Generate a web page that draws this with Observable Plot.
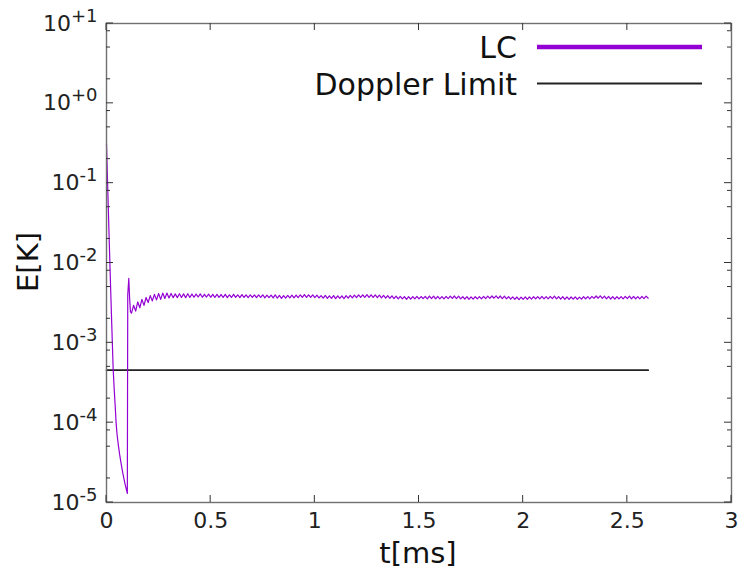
<!DOCTYPE html>
<html><head><meta charset="utf-8">
<script src="https://cdn.jsdelivr.net/npm/d3@7"></script>
<script src="https://cdn.jsdelivr.net/npm/@observablehq/plot@0.6"></script>
<style>
body{margin:0;background:#fff}
svg{font-family:"DejaVu Sans",sans-serif}
</style>
</head><body><div id="chart"></div>
<script>
// Initial cooling drop and re-capture spike (time in ms, energy in K)
const dropTime = [0, 0.004, 0.008, 0.012, 0.016, 0.020, 0.024, 0.028, 0.032, 0.037, 0.042, 0.046, 0.051, 0.057, 0.063, 0.069, 0.075, 0.081, 0.088, 0.094, 0.100, 0.102, 0.107, 0.111, 0.115];
const dropE    = [0.31, 0.13, 0.056, 0.024, 0.0104, 4.7e-3, 2.13e-3, 1.0e-3, 4.7e-4, 2.6e-4, 1.58e-4, 1.0e-4, 7.0e-5, 5.2e-5, 4.0e-5, 3.2e-5, 2.6e-5, 2.15e-5, 1.75e-5, 1.5e-5, 1.3e-5, 4.0e-3, 6.4e-3, 3.6e-3, 2.46e-3];

// Steady-state LC energy in mK, sampled every 0.01 ms from 0.12 ms to 2.60 ms
const tailStart = 0.12;
const tailStep = 0.01;
const tailEmK = [
  2.35,2.95,2.5,3.25,2.75,3.5,2.95,3.7,3.2,3.9,
  3.35,4.05,3.45,4.15,3.5,4.2,3.6,4.2,3.65,4.15,
  3.68,4.1,3.68,4.12,3.7,4.1,3.68,4.12,3.7,4.08,
  3.72,4.08,3.75,4.1,3.72,4.05,3.75,4.08,3.72,4.05,
  3.7,4.05,3.72,4.02,3.7,4.05,3.68,4.0,3.7,4.05,
  3.72,4.0,3.68,4.02,3.7,3.98,3.68,4.0,3.7,3.98,
  3.68,3.98,3.7,4.0,3.66,3.96,3.68,3.95,3.65,3.98,
  3.62,3.92,3.6,3.9,3.62,3.92,3.65,3.95,3.66,3.97,
  3.68,4.0,3.7,4.02,3.72,4.0,3.7,3.98,3.68,3.95,
  3.65,3.9,3.62,3.92,3.6,3.88,3.6,3.9,3.58,3.88,
  3.6,3.88,3.58,3.9,3.62,3.92,3.65,3.95,3.68,3.98,
  3.7,4.0,3.72,4.02,3.72,4.0,3.7,3.98,3.68,3.95,
  3.65,3.92,3.62,3.9,3.6,3.88,3.58,3.85,3.55,3.82,
  3.55,3.8,3.5,3.78,3.52,3.8,3.55,3.82,3.55,3.8,
  3.58,3.82,3.56,3.85,3.58,3.84,3.56,3.82,3.55,3.8,
  3.55,3.82,3.58,3.85,3.6,3.86,3.58,3.84,3.56,3.8,
  3.52,3.78,3.5,3.76,3.52,3.78,3.55,3.8,3.56,3.82,
  3.58,3.84,3.6,3.86,3.62,3.88,3.6,3.86,3.58,3.84,
  3.56,3.8,3.52,3.76,3.5,3.75,3.48,3.74,3.5,3.76,
  3.5,3.76,3.52,3.78,3.55,3.8,3.55,3.82,3.56,3.8,
  3.56,3.82,3.58,3.84,3.56,3.8,3.52,3.78,3.5,3.76,
  3.5,3.75,3.52,3.76,3.5,3.74,3.52,3.78,3.55,3.8,
  3.56,3.82,3.6,3.86,3.62,3.88,3.6,3.84,3.56,3.82,
  3.54,3.8,3.52,3.78,3.55,3.8,3.56,3.82,3.58,3.84,
  3.56,3.82,3.55,3.8,3.56,3.82,3.58,3.84,3.62
];

// Doppler limit
const dopplerTime = [0, 2.6];
const dopplerE = [4.55e-4, 4.55e-4];

// Axes
const xTicks = [0, 0.5, 1, 1.5, 2, 2.5, 3];
const yTicks = [1e-5, 1e-4, 1e-3, 1e-2, 1e-1, 1, 10];
const yTickBase = ["10","10","10","10","10","10","10"];
const yTickExp = ["-5","-4","-3","-2","-1","+0","+1"];
const yMinorTicks = [2e-5,5e-5,8e-5,2e-4,5e-4,8e-4,2e-3,5e-3,8e-3,2e-2,5e-2,8e-2,0.2,0.5,0.8,2,5,8];
const seriesNames = ["LC", "Doppler Limit"];
const seriesColors = ["#9400d3", "#222222"];
const xTitle = "t[ms]";
const yTitle = "E[K]";

const lcData = dropTime.map((t, i) => ({t, E: dropE[i]}))
  .concat(tailEmK.map((v, i) => ({t: +(tailStart + i * tailStep).toFixed(3), E: v / 1000})));
const dopplerData = dopplerTime.map((t, i) => ({t, E: dopplerE[i]}));

const W = 744, H = 572;
const mL = 106, mR = 13, mT = 23, mB = 70;
const plot = Plot.plot({
  width: W, height: H,
  marginLeft: mL, marginRight: mR, marginTop: mT, marginBottom: mB,
  style: {fontFamily: "DejaVu Sans", fontSize: "22px", background: "#fff", color: "#222", overflow: "visible"},
  x: {domain: [0, 3]},
  y: {type: "log", domain: [1e-5, 10]},
  marks: [
    Plot.axisX({anchor: "bottom", ticks: xTicks, tickSize: 0, tickPadding: 10, tickFormat: d => String(d), label: null}),
    Plot.axisY({anchor: "left", ticks: yTicks, tickSize: 0, tickPadding: 9, tickFormat: d => "§" + yTicks.indexOf(d), label: null}),
    Plot.line(dopplerData, {x: "t", y: "E", stroke: seriesColors[1], strokeWidth: 1.8}),
    Plot.line(lcData, {x: "t", y: "E", stroke: seriesColors[0], strokeWidth: 1.2}),
    Plot.frame({stroke: "#707070", strokeWidth: 1.4})
  ]
});
document.getElementById("chart").appendChild(plot);

const svg = d3.select(plot);
const sx = plot.scale("x"), sy = plot.scale("y");
const x0 = mL, x1 = W - mR, y0 = mT, y1 = H - mB;

// inward tick marks on all four sides, placed with Plot's scales
const tg = svg.append("g").attr("stroke", "#333").attr("stroke-width", 1);
xTicks.forEach(v => {
  const px = sx.apply(v);
  tg.append("line").attr("x1", px).attr("x2", px).attr("y1", y1).attr("y2", y1 - 7);
  tg.append("line").attr("x1", px).attr("x2", px).attr("y1", y0).attr("y2", y0 + 7);
});
[[yTicks, 7], [yMinorTicks, 4]].forEach(([arr, len]) => arr.forEach(v => {
  const py = sy.apply(v);
  tg.append("line").attr("x1", x0).attr("x2", x0 + len).attr("y1", py).attr("y2", py);
  tg.append("line").attr("x1", x1).attr("x2", x1 - len).attr("y1", py).attr("y2", py);
}));

// superscript exponent labels
svg.selectAll("text").each(function() {
  const t = d3.select(this);
  const s = t.text();
  if (s.startsWith("§")) {
    const idx = +s.slice(1);
    t.text(null);
    t.append("tspan").text(yTickBase[idx]);
    t.append("tspan").attr("dy", "-9").attr("font-size", "18px").text(yTickExp[idx]);
  }
});

// axis titles
svg.append("text").attr("x", 418).attr("y", 563).attr("text-anchor", "middle")
  .attr("font-size", 29).attr("fill", "#111").text(xTitle);
svg.append("text").attr("transform", "translate(38,262) rotate(-90)").attr("text-anchor", "middle")
  .attr("font-size", 29).attr("fill", "#111").text(yTitle);

// legend
const leg = svg.append("g");
const legY = [47, 83.5];
const legW = [4.5, 2];
seriesNames.forEach((name, i) => {
  leg.append("text").attr("x", 517).attr("y", legY[i] + 11).attr("text-anchor", "end")
    .attr("font-size", 30).attr("fill", "#111").text(name);
  leg.append("line").attr("x1", 537).attr("x2", 702).attr("y1", legY[i]).attr("y2", legY[i])
    .attr("stroke", seriesColors[i]).attr("stroke-width", legW[i]);
});
</script>
</body></html>
